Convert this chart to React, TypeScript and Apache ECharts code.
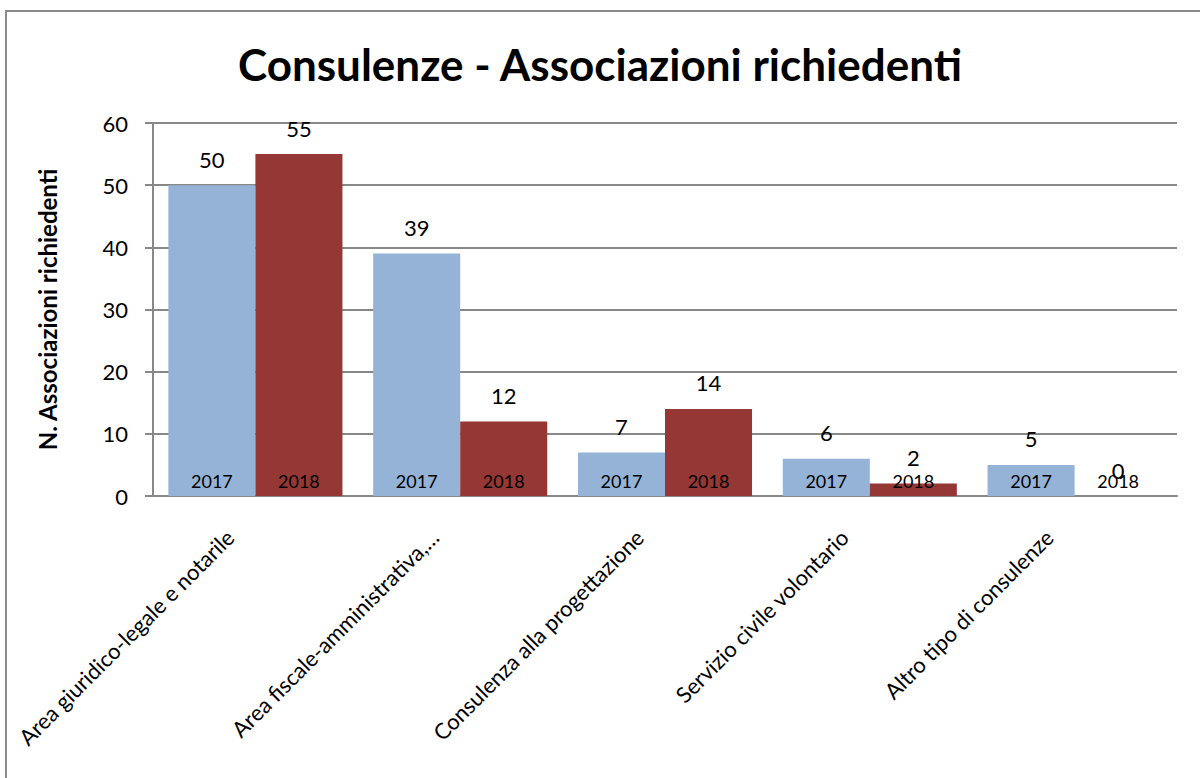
import React, { useEffect, useRef } from "react";
import * as echarts from "echarts";

const categories = [
  "Area giuridico-legale e notarile",
  "Area fiscale-amministrativa,…",
  "Consulenza alla progettazione",
  "Servizio civile volontario",
  "Altro tipo di consulenze",
];
const values2017 = [50, 39, 7, 6, 5];
const values2018 = [55, 12, 14, 2, 0];
const yTicks = { min: 0, max: 60, interval: 10 };
const titleText = "Consulenze - Associazioni richiedenti";
const yAxisTitle = "N. Associazioni richiedenti";

const FONT = "Lato, 'Open Sans', sans-serif";
const C2017 = "#95B3D7";
const C2018 = "#953735";
const GRID = "#888888";

export default function App() {
  const ref = useRef<HTMLDivElement>(null);
  useEffect(() => {
    document.body.style.margin = "0";
    const chart = echarts.init(ref.current!, null, { renderer: "svg" });
    const topLabel = {
      show: true,
      position: "top",
      distance: 15,
      color: "#000",
      fontSize: 22,
      fontFamily: FONT,
    };
    const innerLabel = (name: string) => ({
      show: true,
      position: "insideBottom",
      distance: 6,
      color: "#000",
      fontSize: 18,
      fontFamily: FONT,
      formatter: () => name,
    });
    chart.setOption({
      animation: false,
      backgroundColor: "#fff",
      title: {
        text: titleText,
        left: "center",
        top: 37,
        textStyle: { fontSize: 44, fontWeight: "bold", color: "#000", fontFamily: FONT },
      },
      graphic: [
        {
          type: "rect",
          shape: { x: 6, y: 11, width: 1300, height: 900 },
          style: { fill: "none", stroke: "#8a8a8a", lineWidth: 2 },
          silent: true,
        },
      ],
      grid: { left: 153, right: 23, top: 123, bottom: 282, containLabel: false },
      xAxis: [
        {
          type: "category",
          data: categories,
          axisLine: { lineStyle: { color: GRID, width: 2 } },
          axisTick: { show: false },
          axisLabel: {
            rotate: 45,
            interval: 0,
            margin: 12,
            padding: [0, 36, 0, 0],
            color: "#000",
            fontSize: 22,
            fontFamily: FONT,
          },
        },
        {
          type: "category",
          data: categories,
          show: false,
        },
      ],
      yAxis: {
        type: "value",
        min: yTicks.min,
        max: yTicks.max,
        interval: yTicks.interval,
        name: yAxisTitle,
        nameLocation: "middle",
        nameGap: 94,
        nameTextStyle: { fontSize: 24, fontWeight: "bold", color: "#000", fontFamily: FONT },
        axisLine: { show: true, lineStyle: { color: GRID, width: 2 } },
        axisTick: { show: true, length: 8, lineStyle: { color: GRID, width: 2 } },
        axisLabel: { margin: 25, color: "#000", fontSize: 22, fontFamily: FONT },
        splitLine: { lineStyle: { color: GRID, width: 2 } },
      },
      series: [
        {
          name: "2017",
          type: "bar",
          data: values2017,
          barGap: "0%",
          barCategoryGap: "15%",
          itemStyle: { color: C2017 },
          label: topLabel,
        },
        {
          name: "2018",
          type: "bar",
          data: values2018,
          barGap: "0%",
          barCategoryGap: "15%",
          itemStyle: { color: C2018 },
          label: topLabel,
        },
        {
          name: "2017-in",
          type: "bar",
          xAxisIndex: 1,
          data: values2017,
          barGap: "0%",
          barCategoryGap: "15%",
          itemStyle: { color: "rgba(0,0,0,0)" },
          label: innerLabel("2017"),
          silent: true,
        },
        {
          name: "2018-in",
          type: "bar",
          xAxisIndex: 1,
          data: values2018,
          barGap: "0%",
          barCategoryGap: "15%",
          itemStyle: { color: "rgba(0,0,0,0)" },
          label: innerLabel("2018"),
          silent: true,
        },
      ],
    });
    return () => chart.dispose();
  }, []);
  return <div ref={ref} style={{ width: 1200, height: 778 }} />;
}
